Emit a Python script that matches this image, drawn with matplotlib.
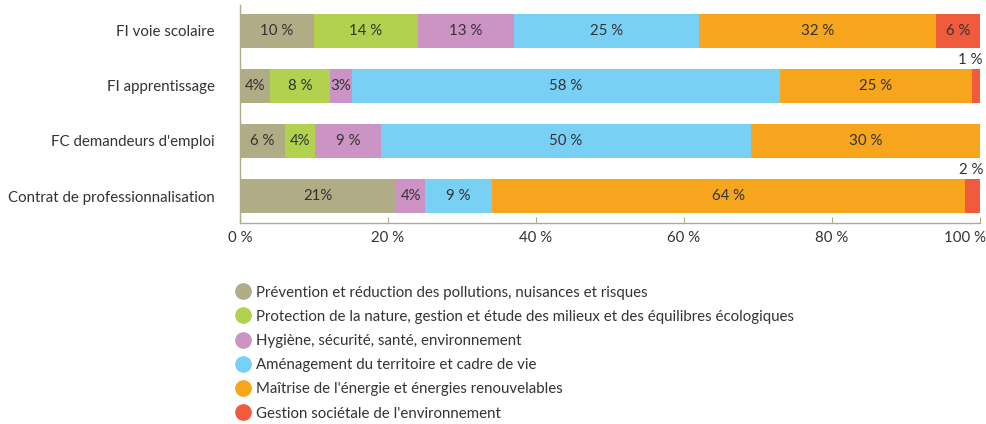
import matplotlib.pyplot as plt
import matplotlib.transforms as mtransforms
from matplotlib.lines import Line2D

plt.rcParams['font.family'] = ['Lato', 'DejaVu Sans']

# rows, top to bottom
categories = ['FI voie scolaire', 'FI apprentissage', 'FC demandeurs d\'emploi',
              'Contrat de professionnalisation']

series = ['Prévention et réduction des pollutions, nuisances et risques',
          'Protection de la nature, gestion et étude des milieux et des équilibres écologiques',
          'Hygiène, sécurité, santé, environnement',
          'Aménagement du territoire et cadre de vie',
          'Maîtrise de l\'énergie et énergies renouvelables',
          'Gestion sociétale de l\'environnement']

colors = ['#b0ac85', '#b2d24f', '#cc94c4', '#79d0f5', '#f6a51d', '#f05b3d']

# segment widths (%) per row, one list per series
prevention = [10, 4.05, 6.1, 21.1]
protection = [14, 8.1, 4.05, 0]
hygiene = [13, 3, 8.9, 3.9]
amenagement = [25, 57.8, 50, 9.05]
energie = [32, 25.95, 30.95, 63.95]
societale = [6, 1.1, 0, 1.95]
values = [prevention, protection, hygiene, amenagement, energie, societale]

# printed labels per row
labels = [
    ['10 %', '4%', '6 %', '21%'],
    ['14 %', '8 %', '4%', ''],
    ['13 %', '3%', '9 %', '4%'],
    ['25 %', '58 %', '50 %', '9 %'],
    ['32 %', '25 %', '30 %', '64 %'],
    ['6 %', '1 %', '', '2 %'],
]

fig = plt.figure(figsize=(9.87, 4.24), dpi=100)
ax = fig.add_axes([240 / 987, 1 - 223 / 424, 740 / 987, 218 / 424])

fs = 10.8
ypos = [3, 2, 1, 0]
left = [0, 0, 0, 0]
h = 0.62
txt = '#333333'
for s in range(len(series)):
    ax.barh(ypos, values[s], left=left, height=h, color=colors[s], linewidth=0)
    for r in range(len(categories)):
        w = values[s][r]
        lab = labels[s][r]
        if lab:
            if w < 2.5:
                ax.text(100.4, ypos[r] + h / 2 + 0.04, lab, ha='right', va='bottom',
                        fontsize=fs, color=txt)
            else:
                ax.text(left[r] + w / 2, ypos[r], lab, ha='center', va='center',
                        fontsize=fs, color=txt)
    left = [left[i] + values[s][i] for i in range(len(left))]

ax.set_xlim(0, 100)
ax.set_ylim(-0.49, 3.47)
ax.set_yticks(ypos)
ax.set_yticklabels(categories, fontsize=fs, color=txt)
ax.set_xticks([0, 20, 40, 60, 80, 100])
ax.set_xticklabels(['0 %', '20 %', '40 %', '60 %', '80 %', '100 %'], fontsize=fs, color=txt)
ax.tick_params(axis='y', length=0, pad=18)
ax.tick_params(axis='x', direction='in', length=4, color='#b0ac85', pad=6)
# last tick label would run off the figure: right-align it
last = ax.get_xticklabels()[-1]
last.set_ha('right')
last.set_transform(last.get_transform() + mtransforms.ScaledTranslation(6 / 100, 0, fig.dpi_scale_trans))
for sp in ['top', 'right']:
    ax.spines[sp].set_visible(False)
for sp in ['left', 'bottom']:
    ax.spines[sp].set_color('#b0ac85')
    ax.spines[sp].set_linewidth(1)

handles = [Line2D([], [], marker='o', linestyle='', markersize=11,
                  markerfacecolor=c, markeredgecolor=c) for c in colors]
fig.legend(handles, series, loc='upper left', bbox_to_anchor=(226 / 987, 1 - 278 / 424),
           frameon=False, fontsize=fs, labelspacing=0.68, handletextpad=0.3,
           handlelength=1.2, borderpad=0, labelcolor=txt)

fig.savefig('out.png', dpi=100)
